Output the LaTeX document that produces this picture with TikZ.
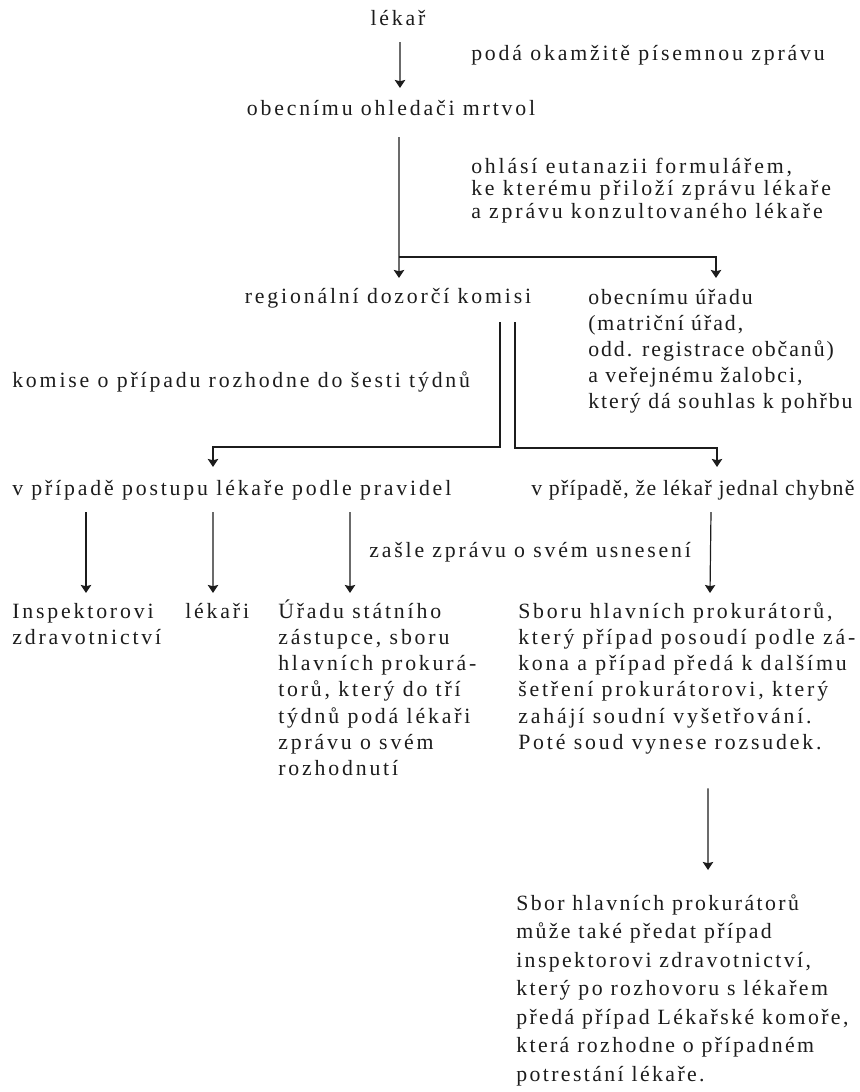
\documentclass[tikz,border=0pt]{standalone}
\usepackage{fontspec}
\setmainfont{Liberation Serif}[LetterSpace=13]
\usepackage{tikz}
\usetikzlibrary{
  arrows.meta,
  calc,
  positioning
}
\definecolor{inkblack}{RGB}{28,28,28}
\tikzset{
  txt/.style={inner sep=0pt,text=inkblack,
    font=\fontsize{15.5}{18.5}\selectfont},
  block/.style={txt,align=left,
    font=\fontsize{15.5}{#1}\selectfont},
  tightblock/.style={txt,align=left,
    font=\fontsize{15.5}{#1}\selectfont\addfontfeatures{LetterSpace=9}},
  flow/.style={-{Stealth[length=2mm,width=2.6mm,inset=0.3mm]},
    line width=0.3mm,draw=inkblack}
}

\begin{document}
\begin{tikzpicture}
  \useasboundingbox (0,0) rectangle (215mm,-273mm);

  \node[txt,anchor=base] (lekar) at (99.5mm,-6.25mm) {lékař};
  \node[txt,below right=8.75mm and 18.25mm of lekar.base,anchor=base west] (okamzite) {
    podá okamžitě písemnou zprávu};
  \node[txt,below=22.5mm of lekar.base,xshift=-1.75mm,anchor=base] (ohledac) {
    obecnímu ohledači mrtvol};
  \draw[flow] ([xshift=0.5mm,yshift=-4.25mm]lekar.base)--([xshift=2.25mm,yshift=6.75mm]ohledac.base);

  % base of a block = baseline of its last line
  \node[block=5.625mm,below=39.5mm of okamzite.base west,anchor=base west] (formular) {
    ohlásí eutanazii formulářem,\\
    ke kterému přiloží zprávu lékaře\\
    a zprávu konzultovaného lékaře};
  \node[txt,below=47mm of ohledac.base,xshift=-0.75mm,anchor=base] (komise) {
    regionální dozorčí komisi};
  \node[tightblock=6.5mm,below right=47.5mm and 29.25mm of formular.base west,anchor=base west] (urad) {
    obecnímu úřadu\\
    (matriční úřad,\\
    odd. registrace občanů)\\
    a veřejnému žalobci,\\
    který dá souhlas k pohřbu};
  \coordinate (rozdel) at ([xshift=2mm,yshift=-35.5mm]ohledac.base);
  \draw[flow] ([xshift=2mm,yshift=-5.5mm]ohledac.base)--(rozdel)
    --([xshift=2.75mm,yshift=6.25mm]komise.base);
  \draw[flow] (rozdel)-|([xshift=32mm,yshift=32.5mm]urad.base west);

  \node[txt,below left=21mm and 94mm of komise.base,anchor=base west] (lhuta) {
    komise o případu rozhodne do šesti týdnů};
  \node[txt,below=27mm of lhuta.base west,anchor=base west] (pravidla) {
    v případě postupu lékaře podle pravidel};
  \node[txt,below left=21.75mm and 14.25mm of urad.base west,anchor=base west,
    font=\fontsize{15.5}{18.5}\selectfont\addfontfeatures{LetterSpace=6}] (chyba) {
    v případě, že lékař jednal chybně};
  \draw[flow] ([xshift=28mm,yshift=-4.75mm]komise.base)--++(0,-31.25mm)
    -|([xshift=50.25mm,yshift=7mm]pravidla.base west);
  \draw[flow] ([xshift=31.75mm,yshift=-4.75mm]komise.base)--++(0,-31.5mm)
    -|([xshift=46.5mm,yshift=7mm]chyba.base west);

  \node[txt,below right=15.5mm and 89.25mm of pravidla.base west,anchor=base west] (usneseni) {
    zašle zprávu o svém usnesení};
  \node[block=6.575mm,below=37.33mm of pravidla.base west,anchor=base west] (inspektor) {
    Inspektorovi\\zdravotnictví};
  \node[txt,below right=30.75mm and 43.25mm of pravidla.base west,anchor=base west] (lekari) {lékaři};
  \node[block=6.575mm,below right=39.45mm and 23.25mm of lekari.base west,anchor=base west] (zastupce) {
    Úřadu státního\\
    zástupce, sboru\\
    hlavních prokurá-\\
    torů, který do tří\\
    týdnů podá lékaři\\
    zprávu o svém\\
    rozhodnutí};
  \node[block=6.575mm,above right=6.575mm and 60mm of zastupce.base west,anchor=base west] (prokuratori) {
    Sboru hlavních prokurátorů,\\
    který případ posoudí podle zá-\\
    kona a případ předá k dalšímu\\
    šetření prokurátorovi, který\\
    zahájí soudní vyšetřování.\\
    Poté soud vynese rozsudek.};
  \draw[flow] ([xshift=18.5mm,yshift=-4.25mm]pravidla.base west)--([xshift=18.5mm,yshift=12.83mm]inspektor.base west);
  \draw[flow] ([xshift=50.25mm,yshift=-4.25mm]pravidla.base west)--([xshift=7mm,yshift=6.25mm]lekari.base west);
  \draw[flow] ([xshift=84.5mm,yshift=-4.25mm]pravidla.base west)--([xshift=18mm,yshift=45.7mm]zastupce.base west);
  \draw[flow] ([xshift=45mm,yshift=-4.25mm]chyba.base west)--([xshift=48mm,yshift=39.125mm]prokuratori.base west);

  \node[block=7.125mm,below left=82.875mm and 0.5mm of prokuratori.base west,anchor=base west,
    font=\fontsize{15.5}{7.125mm}\selectfont\addfontfeatures{LetterSpace=11}] (komora) {
    Sbor hlavních prokurátorů\\
    může také předat případ\\
    inspektorovi zdravotnictví,\\
    který po rozhovoru s lékařem\\
    předá případ Lékařské komoře,\\
    která rozhodne o případném\\
    potrestání lékaře.};
  \draw[flow] ([xshift=47.5mm,yshift=-8.5mm]prokuratori.south west)--([xshift=48mm,yshift=52.75mm]komora.base west);
\end{tikzpicture}
\end{document}
